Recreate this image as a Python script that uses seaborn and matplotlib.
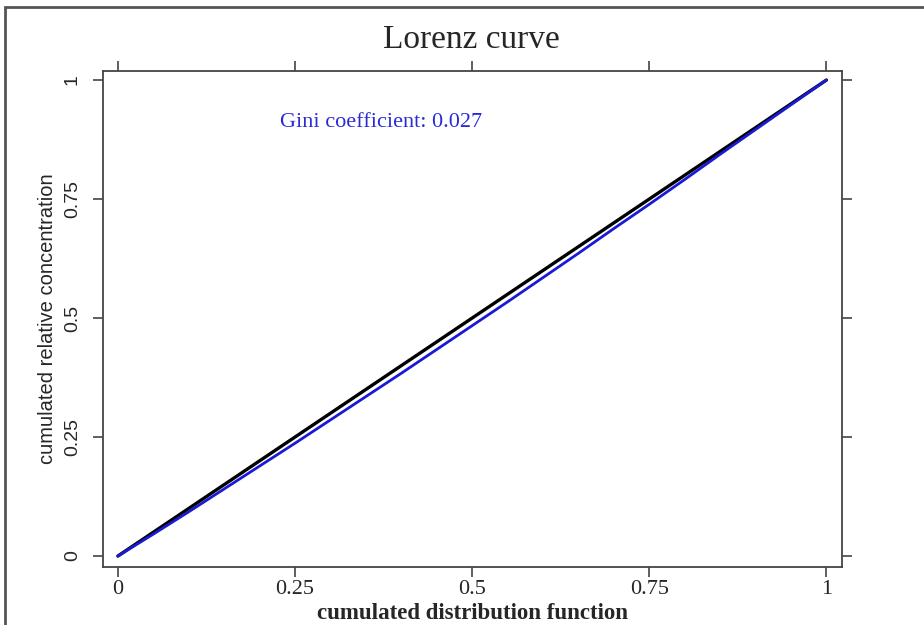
import numpy as np
import pandas as pd

import matplotlib
matplotlib.use("Agg")
import matplotlib.pyplot as plt
import seaborn as sns
from matplotlib.patches import Rectangle


# cumulated distribution function (x) and cumulated relative concentration (y)
cdf_x = [0, 0.05, 0.1, 0.15, 0.2, 0.25, 0.3, 0.35, 0.4, 0.45, 0.5,
         0.55, 0.6, 0.65, 0.7, 0.75, 0.8, 0.85, 0.9, 0.95, 1]
lorenz_y = [0, 0.046, 0.093, 0.141, 0.189, 0.237, 0.286, 0.335, 0.384, 0.434, 0.484,
            0.534, 0.585, 0.636, 0.688, 0.739, 0.791, 0.844, 0.896, 0.948, 1]
equality = [0, 1]

tick_vals = [0, 0.25, 0.5, 0.75, 1]
tick_labels = ["0", "0.25", "0.5", "0.75", "1"]

gini = 0.027


def main():

    sns.set_style("ticks")
    plt.rcParams["font.family"] = ["Liberation Serif", "DejaVu Serif"]

    fig = plt.figure(figsize=(9.24, 6.25), dpi=100)
    ax = fig.add_axes([103 / 924, 1 - 567 / 625, 739 / 924, 496 / 625])

    df = pd.DataFrame({"x": cdf_x, "y": lorenz_y})

    # line of equality
    sns.lineplot(x=equality, y=equality, ax=ax, color="black", linewidth=2.4)

    # lorenz curve
    sns.lineplot(data=df, x="x", y="y", ax=ax, color="#1a1ad6", linewidth=2.0)

    ax.set_xlim(-0.021, 1.022)
    ax.set_ylim(-0.023, 1.019)

    ax.set_xticks(tick_vals)
    ax.set_xticklabels(tick_labels, fontsize=16)
    ax.set_yticks(tick_vals)
    ax.set_yticklabels(tick_labels, fontsize=14, rotation=90, va="center",
                       family=["Liberation Sans Narrow", "Liberation Sans"])

    ax.tick_params(direction="out", length=7, width=1.2, color="#444444",
                   top=True, right=True, labeltop=False, labelright=False)
    ax.tick_params(axis="x", pad=2)
    ax.tick_params(axis="y", pad=9)

    for s in ax.spines.values():
        s.set_visible(True)
        s.set_color("#444444")
        s.set_linewidth(1.3)

    ax.set_xlabel("cumulated distribution function", fontsize=16.5,
                  fontweight="semibold", labelpad=3)
    ax.set_ylabel("cumulated relative concentration", fontsize=14.5, labelpad=5,
                  family=["Liberation Sans Narrow", "Liberation Sans"])

    fig.text(471 / 924, 1 - 40 / 625, "Lorenz curve", fontsize=24,
             ha="center", va="center")

    ax.text(0.229, 0.91, f"Gini coefficient: {gini}", transform=ax.transData,
            fontsize=16, color="#2b2bd6", ha="left", va="center")

    # outer frame
    fig.patches.append(Rectangle((5 / 924, -0.1), 1.2, 1.1 - 7 / 625,
                                 transform=fig.transFigure, fill=False,
                                 edgecolor="#555555", linewidth=2))

    fig.savefig("out.png", dpi=100)
    plt.close()


if __name__ == "__main__":

    main()
